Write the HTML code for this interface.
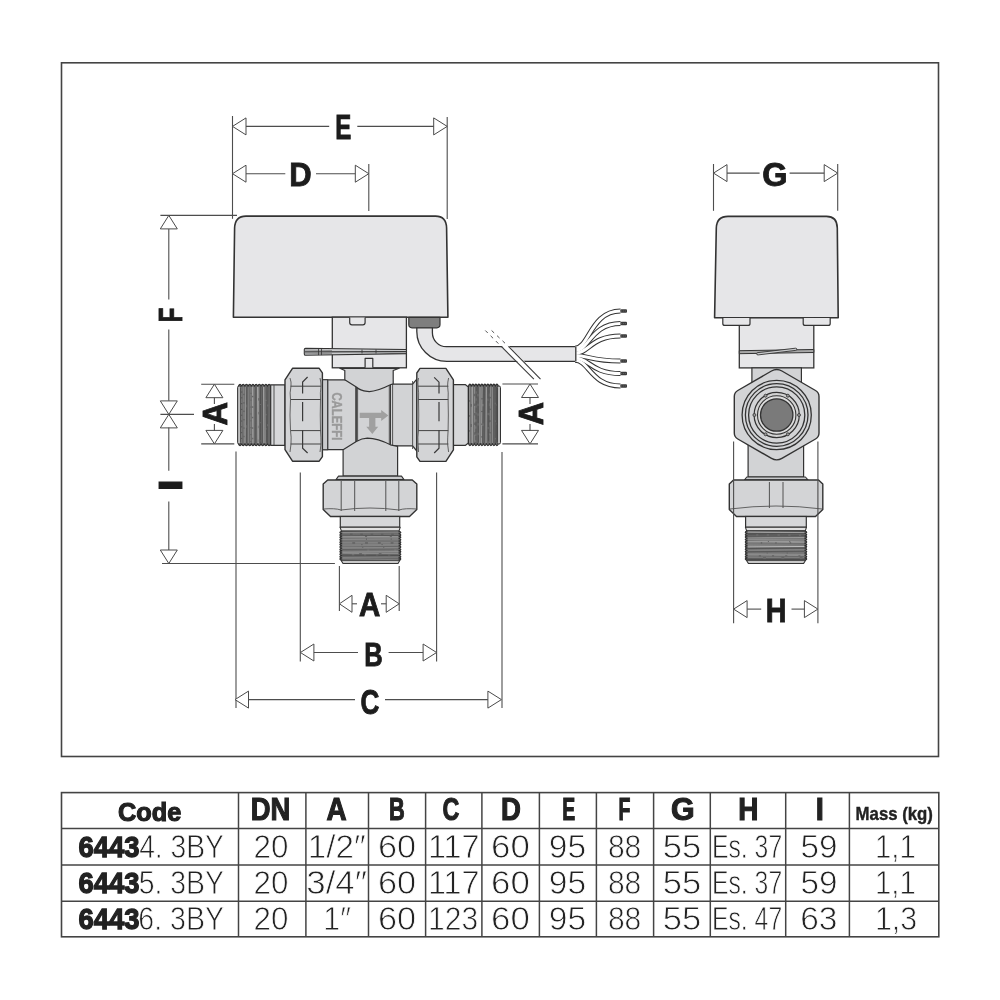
<!DOCTYPE html>
<html><head><meta charset="utf-8"><style>
html,body{margin:0;padding:0;background:#fff;}
svg{display:block;will-change:transform;}
text{font-family:"Liberation Sans", sans-serif;}
</style></head><body>
<svg width="1000" height="1000" viewBox="0 0 1000 1000">
<rect width="1000" height="1000" fill="#fff"/>
<rect x="61.5" y="62.8" width="877" height="693.7" fill="none" stroke="#444" stroke-width="1.6"/>
<line x1="232.5" y1="116" x2="232.5" y2="218.8" stroke="#4d4d4d" stroke-width="1.1" />
<line x1="447.2" y1="117" x2="447.2" y2="219.1" stroke="#4d4d4d" stroke-width="1.1" />
<line x1="368.8" y1="164" x2="368.8" y2="211" stroke="#4d4d4d" stroke-width="1.1" />
<polygon points="232.5,126.4 246.0,117.9 246.0,134.9" fill="#fff" stroke="#4a4a4a" stroke-width="1"/>
<polygon points="447.2,126.4 433.7,117.9 433.7,134.9" fill="#fff" stroke="#4a4a4a" stroke-width="1"/>
<line x1="246.0" y1="126.4" x2="329.2" y2="126.4" stroke="#4d4d4d" stroke-width="1.1" />
<line x1="357.3" y1="126.4" x2="433.7" y2="126.4" stroke="#4d4d4d" stroke-width="1.1" />
<text x="335.24" y="139.15" font-family="Liberation Sans" font-weight="bold" font-size="34.59" fill="#1c1c1c" stroke="#1c1c1c" stroke-width="0.9" textLength="16.05" lengthAdjust="spacingAndGlyphs">E</text>
<polygon points="232.5,173.7 246.0,165.2 246.0,182.2" fill="#fff" stroke="#4a4a4a" stroke-width="1"/>
<polygon points="368.8,173.7 355.3,165.2 355.3,182.2" fill="#fff" stroke="#4a4a4a" stroke-width="1"/>
<line x1="246.0" y1="173.7" x2="285.3" y2="173.7" stroke="#4d4d4d" stroke-width="1.1" />
<line x1="316" y1="173.7" x2="355.3" y2="173.7" stroke="#4d4d4d" stroke-width="1.1" />
<text x="289.18" y="186.45" font-family="Liberation Sans" font-weight="bold" font-size="33.58" fill="#1c1c1c" stroke="#1c1c1c" stroke-width="0.9" textLength="22.37" lengthAdjust="spacingAndGlyphs">D</text>
<line x1="160.4" y1="215.4" x2="237" y2="215.4" stroke="#4d4d4d" stroke-width="1.1" />
<polygon points="168.8,215.4 160.3,228.9 177.3,228.9" fill="#fff" stroke="#4a4a4a" stroke-width="1"/>
<line x1="168.8" y1="229" x2="168.8" y2="299.6" stroke="#4d4d4d" stroke-width="1.1" />
<line x1="168.8" y1="329.6" x2="168.8" y2="400.7" stroke="#4d4d4d" stroke-width="1.1" />
<g transform="translate(181.55,320.55) rotate(-90)"><text x="-1.60" y="0" font-family="Liberation Sans" font-weight="bold" font-size="33.58" fill="#1c1c1c" stroke="#1c1c1c" stroke-width="0.9" textLength="14.57" lengthAdjust="spacingAndGlyphs">F</text></g>
<polygon points="168.8,414.4 160.3,400.9 177.3,400.9" fill="#fff" stroke="#4a4a4a" stroke-width="1"/>
<polygon points="168.8,414.4 160.3,427.9 177.3,427.9" fill="#fff" stroke="#4a4a4a" stroke-width="1"/>
<line x1="160.4" y1="414.4" x2="194" y2="414.4" stroke="#4d4d4d" stroke-width="1.1" />
<line x1="168.8" y1="427.6" x2="168.8" y2="470.8" stroke="#4d4d4d" stroke-width="1.1" />
<line x1="168.8" y1="501.5" x2="168.8" y2="550" stroke="#4d4d4d" stroke-width="1.1" />
<g transform="translate(181.55,488.35) rotate(-90)"><text x="-2.93" y="0" font-family="Liberation Sans" font-weight="bold" font-size="33.58" fill="#1c1c1c" stroke="#1c1c1c" stroke-width="0.9" textLength="12.15" lengthAdjust="spacingAndGlyphs">I</text></g>
<polygon points="168.8,563.5 160.3,550.0 177.3,550.0" fill="#fff" stroke="#4a4a4a" stroke-width="1"/>
<line x1="162" y1="563.5" x2="334.9" y2="563.5" stroke="#4d4d4d" stroke-width="1.1" />
<line x1="201.2" y1="384.2" x2="234.3" y2="384.2" stroke="#4d4d4d" stroke-width="1.1" />
<line x1="201.2" y1="443.9" x2="234.3" y2="443.9" stroke="#4d4d4d" stroke-width="1.1" />
<polygon points="214.4,384.2 205.9,397.7 222.9,397.7" fill="#fff" stroke="#4a4a4a" stroke-width="1"/>
<polygon points="214.4,443.9 205.9,430.4 222.9,430.4" fill="#fff" stroke="#4a4a4a" stroke-width="1"/>
<line x1="214.4" y1="397.7" x2="214.4" y2="404" stroke="#4d4d4d" stroke-width="1.1" />
<line x1="214.4" y1="424" x2="214.4" y2="431" stroke="#4d4d4d" stroke-width="1.1" />
<g transform="translate(227.15,424.75) rotate(-90)"><text x="-0.81" y="0" font-family="Liberation Sans" font-weight="bold" font-size="34.59" fill="#1c1c1c" stroke="#1c1c1c" stroke-width="0.9" textLength="23.57" lengthAdjust="spacingAndGlyphs">A</text></g>
<line x1="502.4" y1="384" x2="538" y2="384" stroke="#4d4d4d" stroke-width="1.1" />
<line x1="502.4" y1="443.9" x2="538" y2="443.9" stroke="#4d4d4d" stroke-width="1.1" />
<polygon points="530.0,384.0 521.5,397.5 538.5,397.5" fill="#fff" stroke="#4a4a4a" stroke-width="1"/>
<polygon points="530.0,443.9 521.5,430.4 538.5,430.4" fill="#fff" stroke="#4a4a4a" stroke-width="1"/>
<line x1="530" y1="397.5" x2="530" y2="404" stroke="#4d4d4d" stroke-width="1.1" />
<line x1="530" y1="424" x2="530" y2="431" stroke="#4d4d4d" stroke-width="1.1" />
<g transform="translate(543.35,424.55) rotate(-90)"><text x="-0.80" y="0" font-family="Liberation Sans" font-weight="bold" font-size="35.32" fill="#1c1c1c" stroke="#1c1c1c" stroke-width="0.9" textLength="23.25" lengthAdjust="spacingAndGlyphs">A</text></g>
<line x1="236" y1="451.6" x2="236" y2="708" stroke="#4d4d4d" stroke-width="1.1" />
<line x1="502" y1="452" x2="502" y2="708" stroke="#4d4d4d" stroke-width="1.1" />
<line x1="300.3" y1="472.4" x2="300.3" y2="661.5" stroke="#4d4d4d" stroke-width="1.1" />
<line x1="436.6" y1="472.4" x2="436.6" y2="661.5" stroke="#4d4d4d" stroke-width="1.1" />
<line x1="339.4" y1="566" x2="339.4" y2="611" stroke="#4d4d4d" stroke-width="1.1" />
<line x1="399.2" y1="566" x2="399.2" y2="611" stroke="#4d4d4d" stroke-width="1.1" />
<polygon points="339.4,603.8 352.0,595.3 352.0,612.3" fill="#fff" stroke="#4a4a4a" stroke-width="1"/>
<polygon points="399.2,603.8 386.2,595.3 386.2,612.3" fill="#fff" stroke="#4a4a4a" stroke-width="1"/>
<line x1="352" y1="603.8" x2="357" y2="603.8" stroke="#4d4d4d" stroke-width="1.1" />
<line x1="381" y1="603.8" x2="386.2" y2="603.8" stroke="#4d4d4d" stroke-width="1.1" />
<text x="358.92" y="615.95" font-family="Liberation Sans" font-weight="bold" font-size="32.70" fill="#1c1c1c" stroke="#1c1c1c" stroke-width="0.9" textLength="21.31" lengthAdjust="spacingAndGlyphs">A</text>
<polygon points="300.4,652.5 313.9,644.0 313.9,661.0" fill="#fff" stroke="#4a4a4a" stroke-width="1"/>
<polygon points="436.6,652.5 423.1,644.0 423.1,661.0" fill="#fff" stroke="#4a4a4a" stroke-width="1"/>
<line x1="313.9" y1="652.5" x2="358" y2="652.5" stroke="#4d4d4d" stroke-width="1.1" />
<line x1="388.6" y1="652.5" x2="423.1" y2="652.5" stroke="#4d4d4d" stroke-width="1.1" />
<text x="364.24" y="665.55" font-family="Liberation Sans" font-weight="bold" font-size="33.58" fill="#1c1c1c" stroke="#1c1c1c" stroke-width="0.9" textLength="18.47" lengthAdjust="spacingAndGlyphs">B</text>
<polygon points="235.0,699.6 248.5,691.1 248.5,708.1" fill="#fff" stroke="#4a4a4a" stroke-width="1"/>
<polygon points="501.4,699.6 487.9,691.1 487.9,708.1" fill="#fff" stroke="#4a4a4a" stroke-width="1"/>
<line x1="248.5" y1="699.6" x2="355" y2="699.6" stroke="#4d4d4d" stroke-width="1.1" />
<line x1="385" y1="699.6" x2="487.9" y2="699.6" stroke="#4d4d4d" stroke-width="1.1" />
<text x="360.38" y="713.55" font-family="Liberation Sans" font-weight="bold" font-size="35.23" fill="#1c1c1c" stroke="#1c1c1c" stroke-width="0.9" textLength="18.89" lengthAdjust="spacingAndGlyphs">C</text>
<path d="M233.4,317.2 L234.6,228 Q235,216.1 246,216.1 L435.5,216.1 Q446.3,216.1 446.6,228 L447.9,317.2 Z" fill="#e6e6e8" stroke="#333" stroke-width="1.6" stroke-linejoin="round"/>
<rect x="332.3" y="317.2" width="74.09999999999997" height="50.60000000000002" rx="0" fill="#e6e6e8" stroke="#333" stroke-width="1.3"/>
<path d="M349.7,317.6 V322.6 Q349.7,324.9 352,324.9 H362.8 Q365.1,324.9 365.1,322.6 V317.6" fill="#e6e6e8" stroke="#333" stroke-width="1.2" stroke-linejoin="round"/>
<line x1="332.3" y1="349.6" x2="406.4" y2="349.6" stroke="#333" stroke-width="1.2" />
<line x1="332.3" y1="353.5" x2="406.4" y2="353.5" stroke="#333" stroke-width="1.2" />
<path d="M305.5,348.3 L406.4,349.5 L406.4,353.6 L305.5,355.3 Q304.3,355.3 304.3,354 V349.6 Q304.3,348.3 305.5,348.3 Z" fill="#c9cacc" stroke="#333" stroke-width="1.1" stroke-linejoin="round"/>
<line x1="305" y1="351.9" x2="406" y2="351.6" stroke="#3a3a3a" stroke-width="1.1" />
<line x1="305" y1="350" x2="332" y2="350.5" stroke="#666" stroke-width="0.6" />
<line x1="305" y1="353.8" x2="332" y2="353.3" stroke="#666" stroke-width="0.6" />
<line x1="318.5" y1="348.5" x2="318.5" y2="355.1" stroke="#333" stroke-width="0.8" />
<line x1="321.5" y1="348.5" x2="321.5" y2="355.1" stroke="#333" stroke-width="0.8" />
<line x1="362" y1="349.6" x2="362" y2="353.5" stroke="#333" stroke-width="0.8" />
<line x1="376" y1="349.6" x2="376" y2="353.5" stroke="#333" stroke-width="0.8" />
<path d="M365.1,367.8 V358.4 H372.8 V367.8" fill="#e6e6e8" stroke="#333" stroke-width="1.2" stroke-linejoin="round"/>
<path d="M408.8,317.4 H440 V324.6 Q440,327.8 436.8,327.8 H412 Q408.8,327.8 408.8,324.6 Z" fill="#7e7e7e" stroke="#333" stroke-width="1.2" stroke-linejoin="round"/>
<path d="M416.8,327.8 V331.2 A30,30 0 0 0 446.8,361.4 H575.8 V346.7 H446.4 A14,14 0 0 1 432.4,332.7 V327.8 Z" fill="#e6e6e8" stroke="#333" stroke-width="1.3" stroke-linejoin="round"/>
<polygon points="501.5,345.8 508.7,345.8 525.5,362.6 518.3,362.6" fill="#fff"/>
<line x1="501.5" y1="346.7" x2="533.9" y2="379.1" stroke="#3a3a3a" stroke-width="1.1" />
<line x1="508.7" y1="346.7" x2="540.5" y2="379.1" stroke="#3a3a3a" stroke-width="1.1" />
<line x1="485.3" y1="330.5" x2="501.5" y2="346.7" stroke="#555" stroke-width="1" stroke-dasharray="3.5,4"/>
<line x1="491.6" y1="330.5" x2="508.7" y2="346.7" stroke="#555" stroke-width="1" stroke-dasharray="3.5,4"/>
<path d="M575,348.2 C589,348.2 591,311 620.5,311" fill="none" stroke="#333" stroke-width="5" stroke-linecap="butt"/>
<path d="M575,350.8 C589,350.8 591,323.5 620.5,323.5" fill="none" stroke="#333" stroke-width="5" stroke-linecap="butt"/>
<path d="M575,353.3 C589,353.3 591,336 620.5,336" fill="none" stroke="#333" stroke-width="5" stroke-linecap="butt"/>
<path d="M575,355.6 C589,355.6 591,361 620.5,361" fill="none" stroke="#333" stroke-width="5" stroke-linecap="butt"/>
<path d="M575,358.0 C589,358.0 591,373.5 620.5,373.5" fill="none" stroke="#333" stroke-width="5" stroke-linecap="butt"/>
<path d="M575,360.3 C589,360.3 591,386 620.5,386" fill="none" stroke="#333" stroke-width="5" stroke-linecap="butt"/>
<path d="M575,348.2 C589,348.2 591,311 620.5,311" fill="none" stroke="#fff" stroke-width="3" stroke-linecap="butt"/>
<path d="M575,350.8 C589,350.8 591,323.5 620.5,323.5" fill="none" stroke="#fff" stroke-width="3" stroke-linecap="butt"/>
<path d="M575,353.3 C589,353.3 591,336 620.5,336" fill="none" stroke="#fff" stroke-width="3" stroke-linecap="butt"/>
<path d="M575,355.6 C589,355.6 591,361 620.5,361" fill="none" stroke="#fff" stroke-width="3" stroke-linecap="butt"/>
<path d="M575,358.0 C589,358.0 591,373.5 620.5,373.5" fill="none" stroke="#fff" stroke-width="3" stroke-linecap="butt"/>
<path d="M575,360.3 C589,360.3 591,386 620.5,386" fill="none" stroke="#fff" stroke-width="3" stroke-linecap="butt"/>
<rect x="620.5" y="309.2" width="6.5" height="3.6" rx="1" fill="#3a3a3a"/>
<line x1="620.8" y1="311" x2="626.5" y2="311" stroke="#888" stroke-width="0.6" stroke-dasharray="1,1"/>
<rect x="620.5" y="321.7" width="6.5" height="3.6" rx="1" fill="#3a3a3a"/>
<line x1="620.8" y1="323.5" x2="626.5" y2="323.5" stroke="#888" stroke-width="0.6" stroke-dasharray="1,1"/>
<rect x="620.5" y="334.2" width="6.5" height="3.6" rx="1" fill="#3a3a3a"/>
<line x1="620.8" y1="336" x2="626.5" y2="336" stroke="#888" stroke-width="0.6" stroke-dasharray="1,1"/>
<rect x="620.5" y="359.2" width="6.5" height="3.6" rx="1" fill="#3a3a3a"/>
<line x1="620.8" y1="361" x2="626.5" y2="361" stroke="#888" stroke-width="0.6" stroke-dasharray="1,1"/>
<rect x="620.5" y="371.7" width="6.5" height="3.6" rx="1" fill="#3a3a3a"/>
<line x1="620.8" y1="373.5" x2="626.5" y2="373.5" stroke="#888" stroke-width="0.6" stroke-dasharray="1,1"/>
<rect x="620.5" y="384.2" width="6.5" height="3.6" rx="1" fill="#3a3a3a"/>
<line x1="620.8" y1="386" x2="626.5" y2="386" stroke="#888" stroke-width="0.6" stroke-dasharray="1,1"/>
<line x1="575.8" y1="346.7" x2="575.8" y2="361.4" stroke="#333" stroke-width="1.3" />
<path d="M238.4,386.3 Q240.02,382.10 241.63,386.30 Q243.25,382.10 244.86,386.30 Q246.48,382.10 248.09,386.30 Q249.71,382.10 251.32,386.30 Q252.94,382.10 254.55,386.30 Q256.17,382.10 257.78,386.30 Q259.39,382.10 261.01,386.30 Q262.62,382.10 264.24,386.30 Q265.86,382.10 267.47,386.30 Q269.08,382.10 270.70,386.30 L270.7,443.7 Q269.08,447.90 267.47,443.70 Q265.85,447.90 264.24,443.70 Q262.62,447.90 261.01,443.70 Q259.39,447.90 257.78,443.70 Q256.16,447.90 254.55,443.70 Q252.94,447.90 251.32,443.70 Q249.70,447.90 248.09,443.70 Q246.47,447.90 244.86,443.70 Q243.25,447.90 241.63,443.70 Q240.01,447.90 238.40,443.70 Z" fill="#686868" stroke="#2e2e2e" stroke-width="1.1" stroke-linejoin="round"/>
<line x1="239.60" y1="386.8" x2="239.89" y2="443.2" stroke="#9a9a9a" stroke-width="1.10"/>
<line x1="241.71" y1="386.8" x2="241.55" y2="443.2" stroke="#b0b0b0" stroke-width="0.71" stroke-dasharray="4.7,1.1"/>
<line x1="243.75" y1="386.8" x2="244.25" y2="443.2" stroke="#8a8a8a" stroke-width="0.99" stroke-dasharray="7.0,1.4"/>
<line x1="245.67" y1="386.8" x2="245.22" y2="443.2" stroke="#c4c4c4" stroke-width="0.46"/>
<line x1="246.67" y1="386.8" x2="246.42" y2="443.2" stroke="#505050" stroke-width="0.68" stroke-dasharray="17.8,2.7"/>
<line x1="248.82" y1="386.8" x2="248.46" y2="443.2" stroke="#8a8a8a" stroke-width="0.79"/>
<line x1="250.98" y1="386.8" x2="250.74" y2="443.2" stroke="#8a8a8a" stroke-width="0.88" stroke-dasharray="6.0,0.9"/>
<line x1="252.71" y1="386.8" x2="252.94" y2="443.2" stroke="#d4d4d4" stroke-width="0.68" stroke-dasharray="9.0,1.5"/>
<line x1="253.93" y1="386.8" x2="253.35" y2="443.2" stroke="#8a8a8a" stroke-width="0.73"/>
<line x1="255.83" y1="386.8" x2="255.67" y2="443.2" stroke="#505050" stroke-width="0.61"/>
<line x1="257.52" y1="386.8" x2="258.07" y2="443.2" stroke="#c4c4c4" stroke-width="0.68"/>
<line x1="258.66" y1="386.8" x2="258.19" y2="443.2" stroke="#b0b0b0" stroke-width="0.54" stroke-dasharray="11.3,2.5"/>
<line x1="260.56" y1="386.8" x2="260.37" y2="443.2" stroke="#505050" stroke-width="0.94" stroke-dasharray="17.2,1.0"/>
<line x1="262.30" y1="386.8" x2="262.35" y2="443.2" stroke="#505050" stroke-width="0.74"/>
<line x1="263.67" y1="386.8" x2="263.94" y2="443.2" stroke="#c4c4c4" stroke-width="0.72"/>
<line x1="265.04" y1="386.8" x2="265.55" y2="443.2" stroke="#8a8a8a" stroke-width="0.74"/>
<line x1="266.08" y1="386.8" x2="266.65" y2="443.2" stroke="#505050" stroke-width="0.74" stroke-dasharray="13.1,1.1"/>
<line x1="267.85" y1="386.8" x2="267.40" y2="443.2" stroke="#505050" stroke-width="0.73" stroke-dasharray="17.7,2.0"/>
<rect x="237.6" y="386" width="3.2" height="58" rx="1.5" fill="#bdbdbd" stroke="#333" stroke-width="1"/>
<path d="M270.7,384.8 H285 V445.3 H270.7 Z" fill="#d6d7d9" stroke="#333" stroke-width="1.2" stroke-linejoin="round"/>
<line x1="274" y1="385" x2="274" y2="445" stroke="#444" stroke-width="0.9" />
<path d="M453.4,384.6 H465.2 L468.4,387 V443 L465.2,445.4 H453.4 Z" fill="#d6d7d9" stroke="#333" stroke-width="1.2" stroke-linejoin="round"/>
<path d="M468.4,386.2 Q469.90,382.00 471.40,386.20 Q472.90,382.00 474.40,386.20 Q475.90,382.00 477.40,386.20 Q478.90,382.00 480.40,386.20 Q481.90,382.00 483.40,386.20 Q484.90,382.00 486.40,386.20 Q487.90,382.00 489.40,386.20 Q490.90,382.00 492.40,386.20 Q493.90,382.00 495.40,386.20 Q496.90,382.00 498.40,386.20 L498.4,443.6 Q496.90,447.80 495.40,443.60 Q493.90,447.80 492.40,443.60 Q490.90,447.80 489.40,443.60 Q487.90,447.80 486.40,443.60 Q484.90,447.80 483.40,443.60 Q481.90,447.80 480.40,443.60 Q478.90,447.80 477.40,443.60 Q475.90,447.80 474.40,443.60 Q472.90,447.80 471.40,443.60 Q469.90,447.80 468.40,443.60 Z" fill="#686868" stroke="#2e2e2e" stroke-width="1.1" stroke-linejoin="round"/>
<line x1="469.60" y1="386.7" x2="469.56" y2="443.1" stroke="#9a9a9a" stroke-width="0.83" stroke-dasharray="13.5,1.5"/>
<line x1="471.33" y1="386.7" x2="471.23" y2="443.1" stroke="#8a8a8a" stroke-width="1.06" stroke-dasharray="17.2,2.9"/>
<line x1="472.53" y1="386.7" x2="472.64" y2="443.1" stroke="#c4c4c4" stroke-width="0.60"/>
<line x1="474.46" y1="386.7" x2="474.92" y2="443.1" stroke="#8a8a8a" stroke-width="1.16" stroke-dasharray="7.1,2.5"/>
<line x1="476.38" y1="386.7" x2="475.79" y2="443.1" stroke="#505050" stroke-width="0.76" stroke-dasharray="4.6,2.4"/>
<line x1="477.88" y1="386.7" x2="478.30" y2="443.1" stroke="#505050" stroke-width="0.94" stroke-dasharray="7.3,2.4"/>
<line x1="480.03" y1="386.7" x2="479.83" y2="443.1" stroke="#d4d4d4" stroke-width="0.48"/>
<line x1="482.11" y1="386.7" x2="481.59" y2="443.1" stroke="#c4c4c4" stroke-width="0.60" stroke-dasharray="11.5,1.2"/>
<line x1="483.34" y1="386.7" x2="482.79" y2="443.1" stroke="#505050" stroke-width="0.88" stroke-dasharray="17.2,2.4"/>
<line x1="484.66" y1="386.7" x2="484.94" y2="443.1" stroke="#505050" stroke-width="0.94"/>
<line x1="486.35" y1="386.7" x2="485.94" y2="443.1" stroke="#d4d4d4" stroke-width="0.56"/>
<line x1="487.96" y1="386.7" x2="488.40" y2="443.1" stroke="#505050" stroke-width="0.94" stroke-dasharray="11.9,2.3"/>
<line x1="489.09" y1="386.7" x2="489.38" y2="443.1" stroke="#505050" stroke-width="0.75" stroke-dasharray="6.8,2.9"/>
<line x1="490.54" y1="386.7" x2="490.05" y2="443.1" stroke="#8a8a8a" stroke-width="0.92" stroke-dasharray="10.2,1.5"/>
<line x1="492.30" y1="386.7" x2="492.67" y2="443.1" stroke="#c4c4c4" stroke-width="0.41"/>
<line x1="493.89" y1="386.7" x2="493.80" y2="443.1" stroke="#505050" stroke-width="0.70"/>
<line x1="495.17" y1="386.7" x2="495.37" y2="443.1" stroke="#505050" stroke-width="0.76" stroke-dasharray="16.0,1.6"/>
<line x1="496.38" y1="386.7" x2="496.91" y2="443.1" stroke="#505050" stroke-width="0.70" stroke-dasharray="17.7,1.2"/>
<rect x="497.3" y="386" width="3.2" height="58" rx="1.5" fill="#bdbdbd" stroke="#333" stroke-width="1"/>
<path d="M322.5,380.4 Q322.6,379.8 325,379.8 H356.3 V449.7 H325 Q322.5,449.7 322.5,449 Z" fill="#d2d3d5" stroke="#333" stroke-width="1.2" stroke-linejoin="round"/>
<path d="M390.4,384.2 H412.6 L416.8,379.2 V451 L412.6,445.9 H390.4 Z" fill="#d2d3d5" stroke="#333" stroke-width="1.2" stroke-linejoin="round"/>
<rect x="356.3" y="384" width="34.099999999999966" height="62" rx="0" fill="#d2d3d5" stroke="#333" stroke-width="1.0"/>
<line x1="327.7" y1="381" x2="327.7" y2="449" stroke="#444" stroke-width="0.9" />
<line x1="355.8" y1="381" x2="355.8" y2="449" stroke="#444" stroke-width="0.9" />
<line x1="357.6" y1="381" x2="357.6" y2="449" stroke="#444" stroke-width="0.9" />
<line x1="389.3" y1="381" x2="389.3" y2="449" stroke="#444" stroke-width="0.9" />
<line x1="392.6" y1="381" x2="392.6" y2="449" stroke="#444" stroke-width="0.9" />
<line x1="412.6" y1="381" x2="412.6" y2="449" stroke="#444" stroke-width="0.9" />
<path d="M339.8,368.3 H399.2 L393.2,370.5 V383.7 L390.4,384.8 Q375,392.5 367.3,391.4 Q360,390.5 356.3,387 L344.8,379.8 V370.5 Z" fill="#d2d3d5" stroke="#333" stroke-width="1.2" stroke-linejoin="round"/>
<path d="M343.1,449.7 L356.3,441.5 Q362,438.3 367.3,438.2 Q378,438.5 390.4,444.8 L397.6,446.4 V476.1 H343.1 Z" fill="#d2d3d5" stroke="#333" stroke-width="1.2" stroke-linejoin="round"/>
<path d="M322.4,379.8 H327.7 V449.7 H322.4 Z" fill="#c9cacc" stroke="#333" stroke-width="1.1" stroke-linejoin="round"/>
<path d="M292.5,368.3 H319.2 L322.4,372.90000000000003 V456.59999999999997 L319.2,461.2 H292.5 L285,449.7 V379.8 Z" fill="#d3d4d6" stroke="#333" stroke-width="1.4" stroke-linejoin="round"/>
<path d="M445.9,368.4 H420.0 L416.8,373.0 V456.79999999999995 L420.0,461.4 H445.9 L453.4,449.9 V379.9 Z" fill="#d3d4d6" stroke="#333" stroke-width="1.4" stroke-linejoin="round"/>
<line x1="290.5" y1="386.2" x2="321" y2="386.2" stroke="#444" stroke-width="1.0" />
<line x1="418" y1="386.2" x2="448.4" y2="386.2" stroke="#444" stroke-width="1.0" />
<line x1="290.5" y1="399.5" x2="321" y2="399.5" stroke="#444" stroke-width="1.0" />
<line x1="418" y1="399.5" x2="448.4" y2="399.5" stroke="#444" stroke-width="1.0" />
<line x1="290.5" y1="430.6" x2="321" y2="430.6" stroke="#444" stroke-width="1.0" />
<line x1="418" y1="430.6" x2="448.4" y2="430.6" stroke="#444" stroke-width="1.0" />
<line x1="290.5" y1="444" x2="321" y2="444" stroke="#444" stroke-width="1.0" />
<line x1="418" y1="444" x2="448.4" y2="444" stroke="#444" stroke-width="1.0" />
<path d="M290,378 Q291.5,382 291,386 Q289.5,393 290.5,399.5 Q289.5,415 290.5,430.5 Q291.5,437 291,444 Q290.5,448 290,452 M320,378 Q321,382 321,386 Q320,393 320.5,399.5 Q320,415 320.5,430.5 Q321,437 321,444 Q320.5,448 320,452" fill="none" stroke="#555" stroke-width="0.9"/>
<path d="M448.6,378 Q447.6,382 447.6,386 Q448.6,393 448.1,399.5 Q448.6,415 448.1,430.5 Q447.6,437 447.6,444 Q448.1,448 448.6,452 M418.5,378 Q417.5,382 418,386 Q419,393 418.5,399.5 Q419,415 418.5,430.5 Q417.5,437 418,444 Q418.5,448 418.5,452" fill="none" stroke="#555" stroke-width="0.9"/>
<path d="M307.6,377 L302.6,382 V393.6 M302.6,402 V421.2 M302.6,430.2 V448.2 L307.6,453" fill="none" stroke="#3a3a3a" stroke-width="1.2"/>
<path d="M434.2,377.4 L439,382.2 V393.6 M439,402 V421.2 M439,430.2 V448.2 L434.2,453" fill="none" stroke="#3a3a3a" stroke-width="1.2"/>
<g transform="translate(337.6,416.4) rotate(90)"><text x="-24" y="5.2" font-family="Liberation Sans" font-weight="bold" font-size="14.2" fill="#9a9a9a" stroke="#9a9a9a" stroke-width="0.35" textLength="48" lengthAdjust="spacingAndGlyphs">CALEFFI</text></g>
<path d="M359.7,412.7 H381.2 V409.9 L388.4,415.4 L381.2,421 V417.9 H375.4 V426.8 H378.2 L372.3,434 L366.3,426.8 H369.1 V417.9 H359.7 Z" fill="#a0a0a0"/>
<path d="M338.5,476.1 H401.5 L404,479.6 H336 Z" fill="#c9cacc" stroke="#333" stroke-width="1.1" stroke-linejoin="round"/>
<path d="M327.7,480 H412.3 L416.8,484 V509.5 L409.5,516.5 H330.5 L323.2,509.5 V484 Z" fill="#d3d4d6" stroke="#333" stroke-width="1.4" stroke-linejoin="round"/>
<line x1="341.2" y1="481" x2="341.2" y2="511" stroke="#444" stroke-width="0.9" />
<line x1="354.7" y1="481" x2="354.7" y2="511" stroke="#444" stroke-width="0.9" />
<line x1="385.8" y1="481" x2="385.8" y2="511" stroke="#444" stroke-width="0.9" />
<line x1="398.8" y1="481" x2="398.8" y2="511" stroke="#444" stroke-width="0.9" />
<path d="M323.5,509 Q335,508 341,510 Q370,506 399,510 Q405,508 416.5,509" fill="none" stroke="#555" stroke-width="0.9"/>
<rect x="340.3" y="516.5" width="59.39999999999998" height="10.700000000000045" rx="0" fill="#d6d7d9" stroke="#333" stroke-width="1.2"/>
<path d="M340.1,527.2 H400.2 L399,531.1 H341.4 Z" fill="#e0e0e0" stroke="#333" stroke-width="1.1" stroke-linejoin="round"/>
<path d="M341.8,531.3 Q337.80,532.51 341.80,533.72 Q337.80,534.92 341.80,536.13 Q337.80,537.34 341.80,538.55 Q337.80,539.76 341.80,540.97 Q337.80,542.17 341.80,543.38 Q337.80,544.59 341.80,545.80 Q337.80,547.01 341.80,548.22 Q337.80,549.42 341.80,550.63 Q337.80,551.84 341.80,553.05 Q337.80,554.26 341.80,555.47 Q337.80,556.67 341.80,557.88 Q337.80,559.09 341.80,560.30 L398.9,560.3 Q402.90,559.09 398.90,557.88 Q402.90,556.67 398.90,555.47 Q402.90,554.26 398.90,553.05 Q402.90,551.84 398.90,550.63 Q402.90,549.42 398.90,548.22 Q402.90,547.01 398.90,545.80 Q402.90,544.59 398.90,543.38 Q402.90,542.17 398.90,540.97 Q402.90,539.76 398.90,538.55 Q402.90,537.34 398.90,536.13 Q402.90,534.92 398.90,533.72 Q402.90,532.51 398.90,531.30 Z" fill="#686868" stroke="#2e2e2e" stroke-width="1.1" stroke-linejoin="round"/>
<line x1="342.3" y1="532.30" x2="398.4" y2="531.93" stroke="#9a9a9a" stroke-width="0.93"/>
<line x1="342.3" y1="534.10" x2="398.4" y2="534.34" stroke="#8a8a8a" stroke-width="0.75" stroke-dasharray="7.7,2.6"/>
<line x1="342.3" y1="535.15" x2="398.4" y2="535.28" stroke="#505050" stroke-width="0.99"/>
<line x1="342.3" y1="536.30" x2="398.4" y2="536.64" stroke="#d4d4d4" stroke-width="0.43" stroke-dasharray="22.7,2.1"/>
<line x1="342.3" y1="537.63" x2="398.4" y2="537.63" stroke="#8a8a8a" stroke-width="0.96"/>
<line x1="342.3" y1="539.29" x2="398.4" y2="539.00" stroke="#9a9a9a" stroke-width="0.90" stroke-dasharray="23.7,1.0"/>
<line x1="342.3" y1="541.05" x2="398.4" y2="540.93" stroke="#8a8a8a" stroke-width="0.74"/>
<line x1="342.3" y1="542.90" x2="398.4" y2="542.86" stroke="#8a8a8a" stroke-width="1.12" stroke-dasharray="10.0,2.8"/>
<line x1="342.3" y1="544.88" x2="398.4" y2="544.65" stroke="#8a8a8a" stroke-width="0.98" stroke-dasharray="18.8,1.5"/>
<line x1="342.3" y1="545.89" x2="398.4" y2="545.31" stroke="#8a8a8a" stroke-width="0.77"/>
<line x1="342.3" y1="547.36" x2="398.4" y2="547.53" stroke="#8a8a8a" stroke-width="0.92" stroke-dasharray="19.9,1.1"/>
<line x1="342.3" y1="548.47" x2="398.4" y2="549.04" stroke="#8a8a8a" stroke-width="0.70"/>
<line x1="342.3" y1="550.07" x2="398.4" y2="550.16" stroke="#505050" stroke-width="0.61" stroke-dasharray="24.9,2.1"/>
<line x1="342.3" y1="551.11" x2="398.4" y2="550.90" stroke="#b0b0b0" stroke-width="0.50"/>
<line x1="342.3" y1="552.40" x2="398.4" y2="551.82" stroke="#c4c4c4" stroke-width="0.48"/>
<line x1="342.3" y1="553.77" x2="398.4" y2="553.39" stroke="#8a8a8a" stroke-width="1.18" stroke-dasharray="16.9,2.7"/>
<line x1="342.3" y1="554.93" x2="398.4" y2="555.46" stroke="#505050" stroke-width="0.93" stroke-dasharray="9.6,2.4"/>
<line x1="342.3" y1="556.12" x2="398.4" y2="556.03" stroke="#505050" stroke-width="0.95"/>
<line x1="342.3" y1="557.23" x2="398.4" y2="556.94" stroke="#b0b0b0" stroke-width="0.50"/>
<line x1="342.3" y1="559.05" x2="398.4" y2="559.62" stroke="#9a9a9a" stroke-width="0.96"/>
<path d="M341,560.3 H399.9 L398,563.5 H343 Z" fill="#c8c8c8" stroke="#333" stroke-width="1.1" stroke-linejoin="round"/>
<line x1="713.5" y1="164" x2="713.5" y2="210.8" stroke="#4d4d4d" stroke-width="1.1" />
<line x1="837.7" y1="164" x2="837.7" y2="210.8" stroke="#4d4d4d" stroke-width="1.1" />
<polygon points="713.5,173.1 727.0,164.6 727.0,181.6" fill="#fff" stroke="#4a4a4a" stroke-width="1"/>
<polygon points="837.7,173.1 824.2,164.6 824.2,181.6" fill="#fff" stroke="#4a4a4a" stroke-width="1"/>
<line x1="727.0" y1="173.1" x2="759.6" y2="173.1" stroke="#4d4d4d" stroke-width="1.1" />
<line x1="789.6" y1="173.1" x2="824.2" y2="173.1" stroke="#4d4d4d" stroke-width="1.1" />
<text x="762.32" y="186.35" font-family="Liberation Sans" font-weight="bold" font-size="33.08" fill="#1c1c1c" stroke="#1c1c1c" stroke-width="0.9" textLength="25.24" lengthAdjust="spacingAndGlyphs">G</text>
<path d="M714.6,317.7 L716.3,228 Q716.7,216.4 728,216.4 L826.5,216.4 Q837.1,216.4 837.3,228 L838.2,317.7 Z" fill="#e6e6e8" stroke="#333" stroke-width="1.6" stroke-linejoin="round"/>
<rect x="739.3" y="317.9" width="74.5" height="50.0" rx="0" fill="#e6e6e8" stroke="#333" stroke-width="1.3"/>
<path d="M722.8,317.9 V323.4 Q722.8,325.4 724.8,325.4 H748 Q750,325.4 750,323.4 V317.9" fill="#e6e6e8" stroke="#333" stroke-width="1.2" stroke-linejoin="round"/>
<path d="M803.2,317.9 V323.4 Q803.2,325.4 805.2,325.4 H828.2 Q830.2,325.4 830.2,323.4 V317.9" fill="#e6e6e8" stroke="#333" stroke-width="1.2" stroke-linejoin="round"/>
<path d="M739.3,350.7 L813.8,349.5 L813.8,352.5 L739.3,353.7 Z" fill="#a8a8a8" stroke="#333" stroke-width="1.0" stroke-linejoin="round"/>
<path d="M758,352.6 L795.5,348.2 Q796.8,348.2 796.9,349.2 Q797,350.2 795.7,350.4 L758.2,354.9 Q756.6,355 756.5,353.8 Q756.5,352.7 758,352.6 Z" fill="#c8c9cb" stroke="#333" stroke-width="0.9"/>
<rect x="751.9" y="367.9" width="49.5" height="24.100000000000023" rx="0" fill="#d2d3d5" stroke="#333" stroke-width="1.2"/>
<rect x="748.1" y="440" width="55.5" height="37" rx="0" fill="#d2d3d5" stroke="#333" stroke-width="1.2"/>
<path d="M771.5,371 Q776.7,368 781.9,371 L815.5,390.5 Q819,392.5 819,396.5 V433 Q819,437 815.5,439 L781.9,458.4 Q776.7,461.4 771.5,458.4 L737.8,439 Q734.3,437 734.3,433 V396.5 Q734.3,392.5 737.8,390.5 Z" fill="#d3d4d6" stroke="#333" stroke-width="1.4" stroke-linejoin="round"/>
<circle cx="776.7" cy="415" r="34.6" fill="none" stroke="#333" stroke-width="1.3"/>
<circle cx="776.7" cy="415" r="31.3" fill="none" stroke="#333" stroke-width="1.3"/>
<circle cx="776.7" cy="415" r="28.1" fill="none" stroke="#333" stroke-width="1.3"/>
<circle cx="776.7" cy="415" r="22.6" fill="#d2d2d2" stroke="#333" stroke-width="1.2"/>
<circle cx="799.00" cy="415.00" r="1.5" fill="#999" stroke="#333" stroke-width="0.8"/>
<circle cx="787.85" cy="434.31" r="1.5" fill="#999" stroke="#333" stroke-width="0.8"/>
<circle cx="765.55" cy="434.31" r="1.5" fill="#999" stroke="#333" stroke-width="0.8"/>
<circle cx="754.40" cy="415.00" r="1.5" fill="#999" stroke="#333" stroke-width="0.8"/>
<circle cx="765.55" cy="395.69" r="1.5" fill="#999" stroke="#333" stroke-width="0.8"/>
<circle cx="787.85" cy="395.69" r="1.5" fill="#999" stroke="#333" stroke-width="0.8"/>
<circle cx="776.7" cy="415" r="19.2" fill="#dcdcdc" stroke="#333" stroke-width="1.1"/>
<circle cx="776.7" cy="415" r="16.2" fill="#7a7a7a" stroke="#333" stroke-width="1.3"/>
<path d="M746.8,477 H805.4 L808,479.8 H744.5 Z" fill="#c9cacc" stroke="#333" stroke-width="1.1" stroke-linejoin="round"/>
<path d="M733.5,480 H818.5 L822.8,484 V509.5 L815.5,516.5 H736.5 L729.3,509.5 V484 Z" fill="#d3d4d6" stroke="#333" stroke-width="1.4" stroke-linejoin="round"/>
<line x1="769.4" y1="482" x2="769.4" y2="508" stroke="#444" stroke-width="0.9" />
<line x1="783" y1="482" x2="783" y2="508" stroke="#444" stroke-width="0.9" />
<path d="M729.8,509 Q776,503 822.3,509" fill="none" stroke="#555" stroke-width="0.9"/>
<rect x="745.6" y="516.5" width="60.69999999999993" height="10.700000000000045" rx="0" fill="#d6d7d9" stroke="#333" stroke-width="1.2"/>
<path d="M745.4,527.2 H806.5 L805.3,530.8 H746.6 Z" fill="#e0e0e0" stroke="#333" stroke-width="1.1" stroke-linejoin="round"/>
<path d="M747.2,531 Q743.20,532.22 747.20,533.44 Q743.20,534.66 747.20,535.88 Q743.20,537.10 747.20,538.33 Q743.20,539.55 747.20,540.77 Q743.20,541.99 747.20,543.21 Q743.20,544.43 747.20,545.65 Q743.20,546.87 747.20,548.09 Q743.20,549.31 747.20,550.53 Q743.20,551.75 747.20,552.97 Q743.20,554.20 747.20,555.42 Q743.20,556.64 747.20,557.86 Q743.20,559.08 747.20,560.30 L804.8,560.3 Q808.80,559.08 804.80,557.86 Q808.80,556.64 804.80,555.42 Q808.80,554.20 804.80,552.97 Q808.80,551.75 804.80,550.53 Q808.80,549.31 804.80,548.09 Q808.80,546.87 804.80,545.65 Q808.80,544.43 804.80,543.21 Q808.80,541.99 804.80,540.77 Q808.80,539.55 804.80,538.33 Q808.80,537.10 804.80,535.88 Q808.80,534.66 804.80,533.44 Q808.80,532.22 804.80,531.00 Z" fill="#686868" stroke="#2e2e2e" stroke-width="1.1" stroke-linejoin="round"/>
<line x1="747.7" y1="532.00" x2="804.3" y2="532.47" stroke="#d4d4d4" stroke-width="0.76"/>
<line x1="747.7" y1="533.65" x2="804.3" y2="533.28" stroke="#505050" stroke-width="0.95"/>
<line x1="747.7" y1="534.72" x2="804.3" y2="535.32" stroke="#505050" stroke-width="0.90" stroke-dasharray="8.4,2.3"/>
<line x1="747.7" y1="536.72" x2="804.3" y2="537.18" stroke="#505050" stroke-width="0.63"/>
<line x1="747.7" y1="537.98" x2="804.3" y2="537.69" stroke="#9a9a9a" stroke-width="1.17"/>
<line x1="747.7" y1="539.83" x2="804.3" y2="539.99" stroke="#9a9a9a" stroke-width="1.04"/>
<line x1="747.7" y1="541.48" x2="804.3" y2="541.70" stroke="#9a9a9a" stroke-width="1.05" stroke-dasharray="20.2,1.1"/>
<line x1="747.7" y1="542.93" x2="804.3" y2="542.66" stroke="#c4c4c4" stroke-width="0.47" stroke-dasharray="13.1,1.4"/>
<line x1="747.7" y1="544.82" x2="804.3" y2="545.06" stroke="#8a8a8a" stroke-width="0.98"/>
<line x1="747.7" y1="545.95" x2="804.3" y2="546.47" stroke="#9a9a9a" stroke-width="0.89"/>
<line x1="747.7" y1="546.99" x2="804.3" y2="546.58" stroke="#d4d4d4" stroke-width="0.74"/>
<line x1="747.7" y1="548.40" x2="804.3" y2="548.05" stroke="#505050" stroke-width="0.95"/>
<line x1="747.7" y1="550.26" x2="804.3" y2="549.94" stroke="#8a8a8a" stroke-width="1.15"/>
<line x1="747.7" y1="551.75" x2="804.3" y2="551.20" stroke="#505050" stroke-width="0.62"/>
<line x1="747.7" y1="553.34" x2="804.3" y2="553.01" stroke="#8a8a8a" stroke-width="0.85" stroke-dasharray="19.0,1.0"/>
<line x1="747.7" y1="554.41" x2="804.3" y2="554.58" stroke="#8a8a8a" stroke-width="1.19"/>
<line x1="747.7" y1="555.93" x2="804.3" y2="555.43" stroke="#b0b0b0" stroke-width="0.45" stroke-dasharray="11.1,2.1"/>
<line x1="747.7" y1="557.40" x2="804.3" y2="557.42" stroke="#8a8a8a" stroke-width="0.70" stroke-dasharray="15.4,2.9"/>
<line x1="747.7" y1="558.88" x2="804.3" y2="559.16" stroke="#505050" stroke-width="0.72" stroke-dasharray="15.5,2.8"/>
<path d="M746.4,560.3 H805.6 L803.6,563.5 H748.4 Z" fill="#c8c8c8" stroke="#333" stroke-width="1.1" stroke-linejoin="round"/>
<line x1="733.6" y1="441.4" x2="733.6" y2="623.3" stroke="#4d4d4d" stroke-width="1.1" />
<line x1="817.9" y1="441.4" x2="817.9" y2="623.3" stroke="#4d4d4d" stroke-width="1.1" />
<polygon points="733.6,609.1 747.1,600.6 747.1,617.6" fill="#fff" stroke="#4a4a4a" stroke-width="1"/>
<polygon points="817.9,609.1 804.4,600.6 804.4,617.6" fill="#fff" stroke="#4a4a4a" stroke-width="1"/>
<line x1="747.1" y1="609.1" x2="761.2" y2="609.1" stroke="#4d4d4d" stroke-width="1.1" />
<line x1="791.5" y1="609.1" x2="804.4" y2="609.1" stroke="#4d4d4d" stroke-width="1.1" />
<text x="765.73" y="621.95" font-family="Liberation Sans" font-weight="bold" font-size="33.29" fill="#1c1c1c" stroke="#1c1c1c" stroke-width="0.9" textLength="20.76" lengthAdjust="spacingAndGlyphs">H</text>
<rect x="61.5" y="792.6" width="877.3" height="144.2" fill="none" stroke="#444" stroke-width="1.6"/>
<line x1="61.5" y1="828.5" x2="938.8" y2="828.5" stroke="#444" stroke-width="1.5" />
<line x1="61.5" y1="864.9" x2="938.8" y2="864.9" stroke="#444" stroke-width="1.5" />
<line x1="61.5" y1="901.2" x2="938.8" y2="901.2" stroke="#444" stroke-width="1.5" />
<line x1="238.5" y1="792.6" x2="238.5" y2="936.8" stroke="#444" stroke-width="1.5" />
<line x1="305.9" y1="792.6" x2="305.9" y2="936.8" stroke="#444" stroke-width="1.5" />
<line x1="368.5" y1="792.6" x2="368.5" y2="936.8" stroke="#444" stroke-width="1.5" />
<line x1="425.6" y1="792.6" x2="425.6" y2="936.8" stroke="#444" stroke-width="1.5" />
<line x1="481.9" y1="792.6" x2="481.9" y2="936.8" stroke="#444" stroke-width="1.5" />
<line x1="539.4" y1="792.6" x2="539.4" y2="936.8" stroke="#444" stroke-width="1.5" />
<line x1="596.4" y1="792.6" x2="596.4" y2="936.8" stroke="#444" stroke-width="1.5" />
<line x1="653.6" y1="792.6" x2="653.6" y2="936.8" stroke="#444" stroke-width="1.5" />
<line x1="710.3" y1="792.6" x2="710.3" y2="936.8" stroke="#444" stroke-width="1.5" />
<line x1="785.7" y1="792.6" x2="785.7" y2="936.8" stroke="#444" stroke-width="1.5" />
<line x1="849.4" y1="792.6" x2="849.4" y2="936.8" stroke="#444" stroke-width="1.5" />
<text x="250.72" y="820.05" font-family="Liberation Sans" font-weight="bold" font-size="30.67" fill="#222" textLength="39.58" lengthAdjust="spacingAndGlyphs" stroke="#222" stroke-width="1.1">DN</text>
<text x="326.46" y="820.05" font-family="Liberation Sans" font-weight="bold" font-size="30.67" fill="#222" textLength="20.13" lengthAdjust="spacingAndGlyphs" stroke="#222" stroke-width="1.1">A</text>
<text x="389.09" y="820.05" font-family="Liberation Sans" font-weight="bold" font-size="30.67" fill="#222" textLength="15.75" lengthAdjust="spacingAndGlyphs" stroke="#222" stroke-width="1.1">B</text>
<text x="442.60" y="820.05" font-family="Liberation Sans" font-weight="bold" font-size="30.67" fill="#222" textLength="16.79" lengthAdjust="spacingAndGlyphs" stroke="#222" stroke-width="1.1">C</text>
<text x="501.11" y="820.05" font-family="Liberation Sans" font-weight="bold" font-size="30.67" fill="#222" textLength="19.90" lengthAdjust="spacingAndGlyphs" stroke="#222" stroke-width="1.1">D</text>
<text x="562.35" y="820.05" font-family="Liberation Sans" font-weight="bold" font-size="30.67" fill="#222" textLength="12.96" lengthAdjust="spacingAndGlyphs" stroke="#222" stroke-width="1.1">E</text>
<text x="618.54" y="820.05" font-family="Liberation Sans" font-weight="bold" font-size="30.67" fill="#222" textLength="11.92" lengthAdjust="spacingAndGlyphs" stroke="#222" stroke-width="1.1">F</text>
<text x="670.90" y="820.05" font-family="Liberation Sans" font-weight="bold" font-size="30.67" fill="#222" textLength="23.63" lengthAdjust="spacingAndGlyphs" stroke="#222" stroke-width="1.1">G</text>
<text x="738.28" y="820.05" font-family="Liberation Sans" font-weight="bold" font-size="30.67" fill="#222" textLength="20.15" lengthAdjust="spacingAndGlyphs" stroke="#222" stroke-width="1.1">H</text>
<text x="815.70" y="820.05" font-family="Liberation Sans" font-weight="bold" font-size="30.67" fill="#222" textLength="8.10" lengthAdjust="spacingAndGlyphs" stroke="#222" stroke-width="1.1">I</text>
<text x="118.01" y="821.45" font-family="Liberation Sans" font-weight="bold" font-size="25.29" fill="#222" textLength="63.30" lengthAdjust="spacingAndGlyphs" stroke="#222" stroke-width="1.1">Code</text>
<text x="855.58" y="819.80" font-family="Liberation Sans" font-weight="bold" font-size="18.60" fill="#222" textLength="77.36" lengthAdjust="spacingAndGlyphs" stroke="#222" stroke-width="0.4">Mass (kg)</text>
<text x="78.55" y="856.95" font-family="Liberation Sans" font-weight="bold" font-size="30.23" fill="#222" textLength="60.99" lengthAdjust="spacingAndGlyphs" stroke="#222" stroke-width="1.3">6443</text>
<text x="139.15" y="858.00" font-family="Liberation Sans" font-weight="normal" font-size="33.19" fill="#222" textLength="84.77" lengthAdjust="spacingAndGlyphs" stroke="#fff" stroke-width="0.8">4. 3BY</text>
<text x="253.52" y="858.00" font-family="Liberation Sans" font-weight="normal" font-size="33.19" fill="#222" textLength="34.90" lengthAdjust="spacingAndGlyphs" stroke="#fff" stroke-width="0.8">20</text>
<text x="307.87" y="858.00" font-family="Liberation Sans" font-weight="normal" font-size="33.19" fill="#222" textLength="57.95" lengthAdjust="spacingAndGlyphs" stroke="#fff" stroke-width="0.8">1/2″</text>
<text x="377.96" y="858.00" font-family="Liberation Sans" font-weight="normal" font-size="33.19" fill="#222" textLength="38.08" lengthAdjust="spacingAndGlyphs" stroke="#fff" stroke-width="0.8">60</text>
<text x="428.05" y="858.00" font-family="Liberation Sans" font-weight="normal" font-size="33.19" fill="#222" textLength="51.50" lengthAdjust="spacingAndGlyphs" stroke="#fff" stroke-width="0.8">117</text>
<text x="491.03" y="858.00" font-family="Liberation Sans" font-weight="normal" font-size="33.19" fill="#222" textLength="38.73" lengthAdjust="spacingAndGlyphs" stroke="#fff" stroke-width="0.8">60</text>
<text x="548.82" y="858.00" font-family="Liberation Sans" font-weight="normal" font-size="33.19" fill="#222" textLength="37.39" lengthAdjust="spacingAndGlyphs" stroke="#fff" stroke-width="0.8">95</text>
<text x="607.89" y="858.00" font-family="Liberation Sans" font-weight="normal" font-size="33.19" fill="#222" textLength="33.41" lengthAdjust="spacingAndGlyphs" stroke="#fff" stroke-width="0.8">88</text>
<text x="662.72" y="858.00" font-family="Liberation Sans" font-weight="normal" font-size="33.19" fill="#222" textLength="38.43" lengthAdjust="spacingAndGlyphs" stroke="#fff" stroke-width="0.8">55</text>
<text x="711.97" y="858.00" font-family="Liberation Sans" font-weight="normal" font-size="33.19" fill="#222" textLength="70.18" lengthAdjust="spacingAndGlyphs" stroke="#fff" stroke-width="0.8">Es. 37</text>
<text x="800.57" y="858.00" font-family="Liberation Sans" font-weight="normal" font-size="33.19" fill="#222" textLength="37.01" lengthAdjust="spacingAndGlyphs" stroke="#fff" stroke-width="0.8">59</text>
<text x="875.07" y="858.00" font-family="Liberation Sans" font-weight="normal" font-size="33.19" fill="#222" textLength="40.66" lengthAdjust="spacingAndGlyphs" stroke="#fff" stroke-width="0.8">1,1</text>
<text x="78.55" y="892.95" font-family="Liberation Sans" font-weight="bold" font-size="30.23" fill="#222" textLength="60.99" lengthAdjust="spacingAndGlyphs" stroke="#222" stroke-width="1.3">6443</text>
<text x="138.66" y="894.00" font-family="Liberation Sans" font-weight="normal" font-size="33.19" fill="#222" textLength="85.26" lengthAdjust="spacingAndGlyphs" stroke="#fff" stroke-width="0.8">5. 3BY</text>
<text x="253.52" y="894.00" font-family="Liberation Sans" font-weight="normal" font-size="33.19" fill="#222" textLength="34.90" lengthAdjust="spacingAndGlyphs" stroke="#fff" stroke-width="0.8">20</text>
<text x="306.27" y="894.00" font-family="Liberation Sans" font-weight="normal" font-size="33.19" fill="#222" textLength="60.77" lengthAdjust="spacingAndGlyphs" stroke="#fff" stroke-width="0.8">3/4″</text>
<text x="377.96" y="894.00" font-family="Liberation Sans" font-weight="normal" font-size="33.19" fill="#222" textLength="38.08" lengthAdjust="spacingAndGlyphs" stroke="#fff" stroke-width="0.8">60</text>
<text x="428.05" y="894.00" font-family="Liberation Sans" font-weight="normal" font-size="33.19" fill="#222" textLength="51.50" lengthAdjust="spacingAndGlyphs" stroke="#fff" stroke-width="0.8">117</text>
<text x="491.03" y="894.00" font-family="Liberation Sans" font-weight="normal" font-size="33.19" fill="#222" textLength="38.73" lengthAdjust="spacingAndGlyphs" stroke="#fff" stroke-width="0.8">60</text>
<text x="548.82" y="894.00" font-family="Liberation Sans" font-weight="normal" font-size="33.19" fill="#222" textLength="37.39" lengthAdjust="spacingAndGlyphs" stroke="#fff" stroke-width="0.8">95</text>
<text x="607.89" y="894.00" font-family="Liberation Sans" font-weight="normal" font-size="33.19" fill="#222" textLength="33.41" lengthAdjust="spacingAndGlyphs" stroke="#fff" stroke-width="0.8">88</text>
<text x="662.72" y="894.00" font-family="Liberation Sans" font-weight="normal" font-size="33.19" fill="#222" textLength="38.43" lengthAdjust="spacingAndGlyphs" stroke="#fff" stroke-width="0.8">55</text>
<text x="711.97" y="894.00" font-family="Liberation Sans" font-weight="normal" font-size="33.19" fill="#222" textLength="70.18" lengthAdjust="spacingAndGlyphs" stroke="#fff" stroke-width="0.8">Es. 37</text>
<text x="800.57" y="894.00" font-family="Liberation Sans" font-weight="normal" font-size="33.19" fill="#222" textLength="37.01" lengthAdjust="spacingAndGlyphs" stroke="#fff" stroke-width="0.8">59</text>
<text x="875.07" y="894.00" font-family="Liberation Sans" font-weight="normal" font-size="33.19" fill="#222" textLength="40.66" lengthAdjust="spacingAndGlyphs" stroke="#fff" stroke-width="0.8">1,1</text>
<text x="78.55" y="928.65" font-family="Liberation Sans" font-weight="bold" font-size="30.23" fill="#222" textLength="60.99" lengthAdjust="spacingAndGlyphs" stroke="#222" stroke-width="1.3">6443</text>
<text x="138.35" y="929.70" font-family="Liberation Sans" font-weight="normal" font-size="33.19" fill="#222" textLength="85.57" lengthAdjust="spacingAndGlyphs" stroke="#fff" stroke-width="0.8">6. 3BY</text>
<text x="253.52" y="929.70" font-family="Liberation Sans" font-weight="normal" font-size="33.19" fill="#222" textLength="34.90" lengthAdjust="spacingAndGlyphs" stroke="#fff" stroke-width="0.8">20</text>
<text x="323.28" y="929.70" font-family="Liberation Sans" font-weight="normal" font-size="33.19" fill="#222" textLength="27.68" lengthAdjust="spacingAndGlyphs" stroke="#fff" stroke-width="0.8">1″</text>
<text x="377.96" y="929.70" font-family="Liberation Sans" font-weight="normal" font-size="33.19" fill="#222" textLength="38.08" lengthAdjust="spacingAndGlyphs" stroke="#fff" stroke-width="0.8">60</text>
<text x="428.12" y="929.70" font-family="Liberation Sans" font-weight="normal" font-size="33.19" fill="#222" textLength="50.00" lengthAdjust="spacingAndGlyphs" stroke="#fff" stroke-width="0.8">123</text>
<text x="491.03" y="929.70" font-family="Liberation Sans" font-weight="normal" font-size="33.19" fill="#222" textLength="38.73" lengthAdjust="spacingAndGlyphs" stroke="#fff" stroke-width="0.8">60</text>
<text x="548.82" y="929.70" font-family="Liberation Sans" font-weight="normal" font-size="33.19" fill="#222" textLength="37.39" lengthAdjust="spacingAndGlyphs" stroke="#fff" stroke-width="0.8">95</text>
<text x="607.89" y="929.70" font-family="Liberation Sans" font-weight="normal" font-size="33.19" fill="#222" textLength="33.41" lengthAdjust="spacingAndGlyphs" stroke="#fff" stroke-width="0.8">88</text>
<text x="662.72" y="929.70" font-family="Liberation Sans" font-weight="normal" font-size="33.19" fill="#222" textLength="38.43" lengthAdjust="spacingAndGlyphs" stroke="#fff" stroke-width="0.8">55</text>
<text x="711.97" y="929.70" font-family="Liberation Sans" font-weight="normal" font-size="33.19" fill="#222" textLength="70.18" lengthAdjust="spacingAndGlyphs" stroke="#fff" stroke-width="0.8">Es. 47</text>
<text x="800.20" y="929.70" font-family="Liberation Sans" font-weight="normal" font-size="33.19" fill="#222" textLength="37.27" lengthAdjust="spacingAndGlyphs" stroke="#fff" stroke-width="0.8">63</text>
<text x="874.99" y="929.70" font-family="Liberation Sans" font-weight="normal" font-size="33.19" fill="#222" textLength="42.14" lengthAdjust="spacingAndGlyphs" stroke="#fff" stroke-width="0.8">1,3</text>
</svg></body></html>
